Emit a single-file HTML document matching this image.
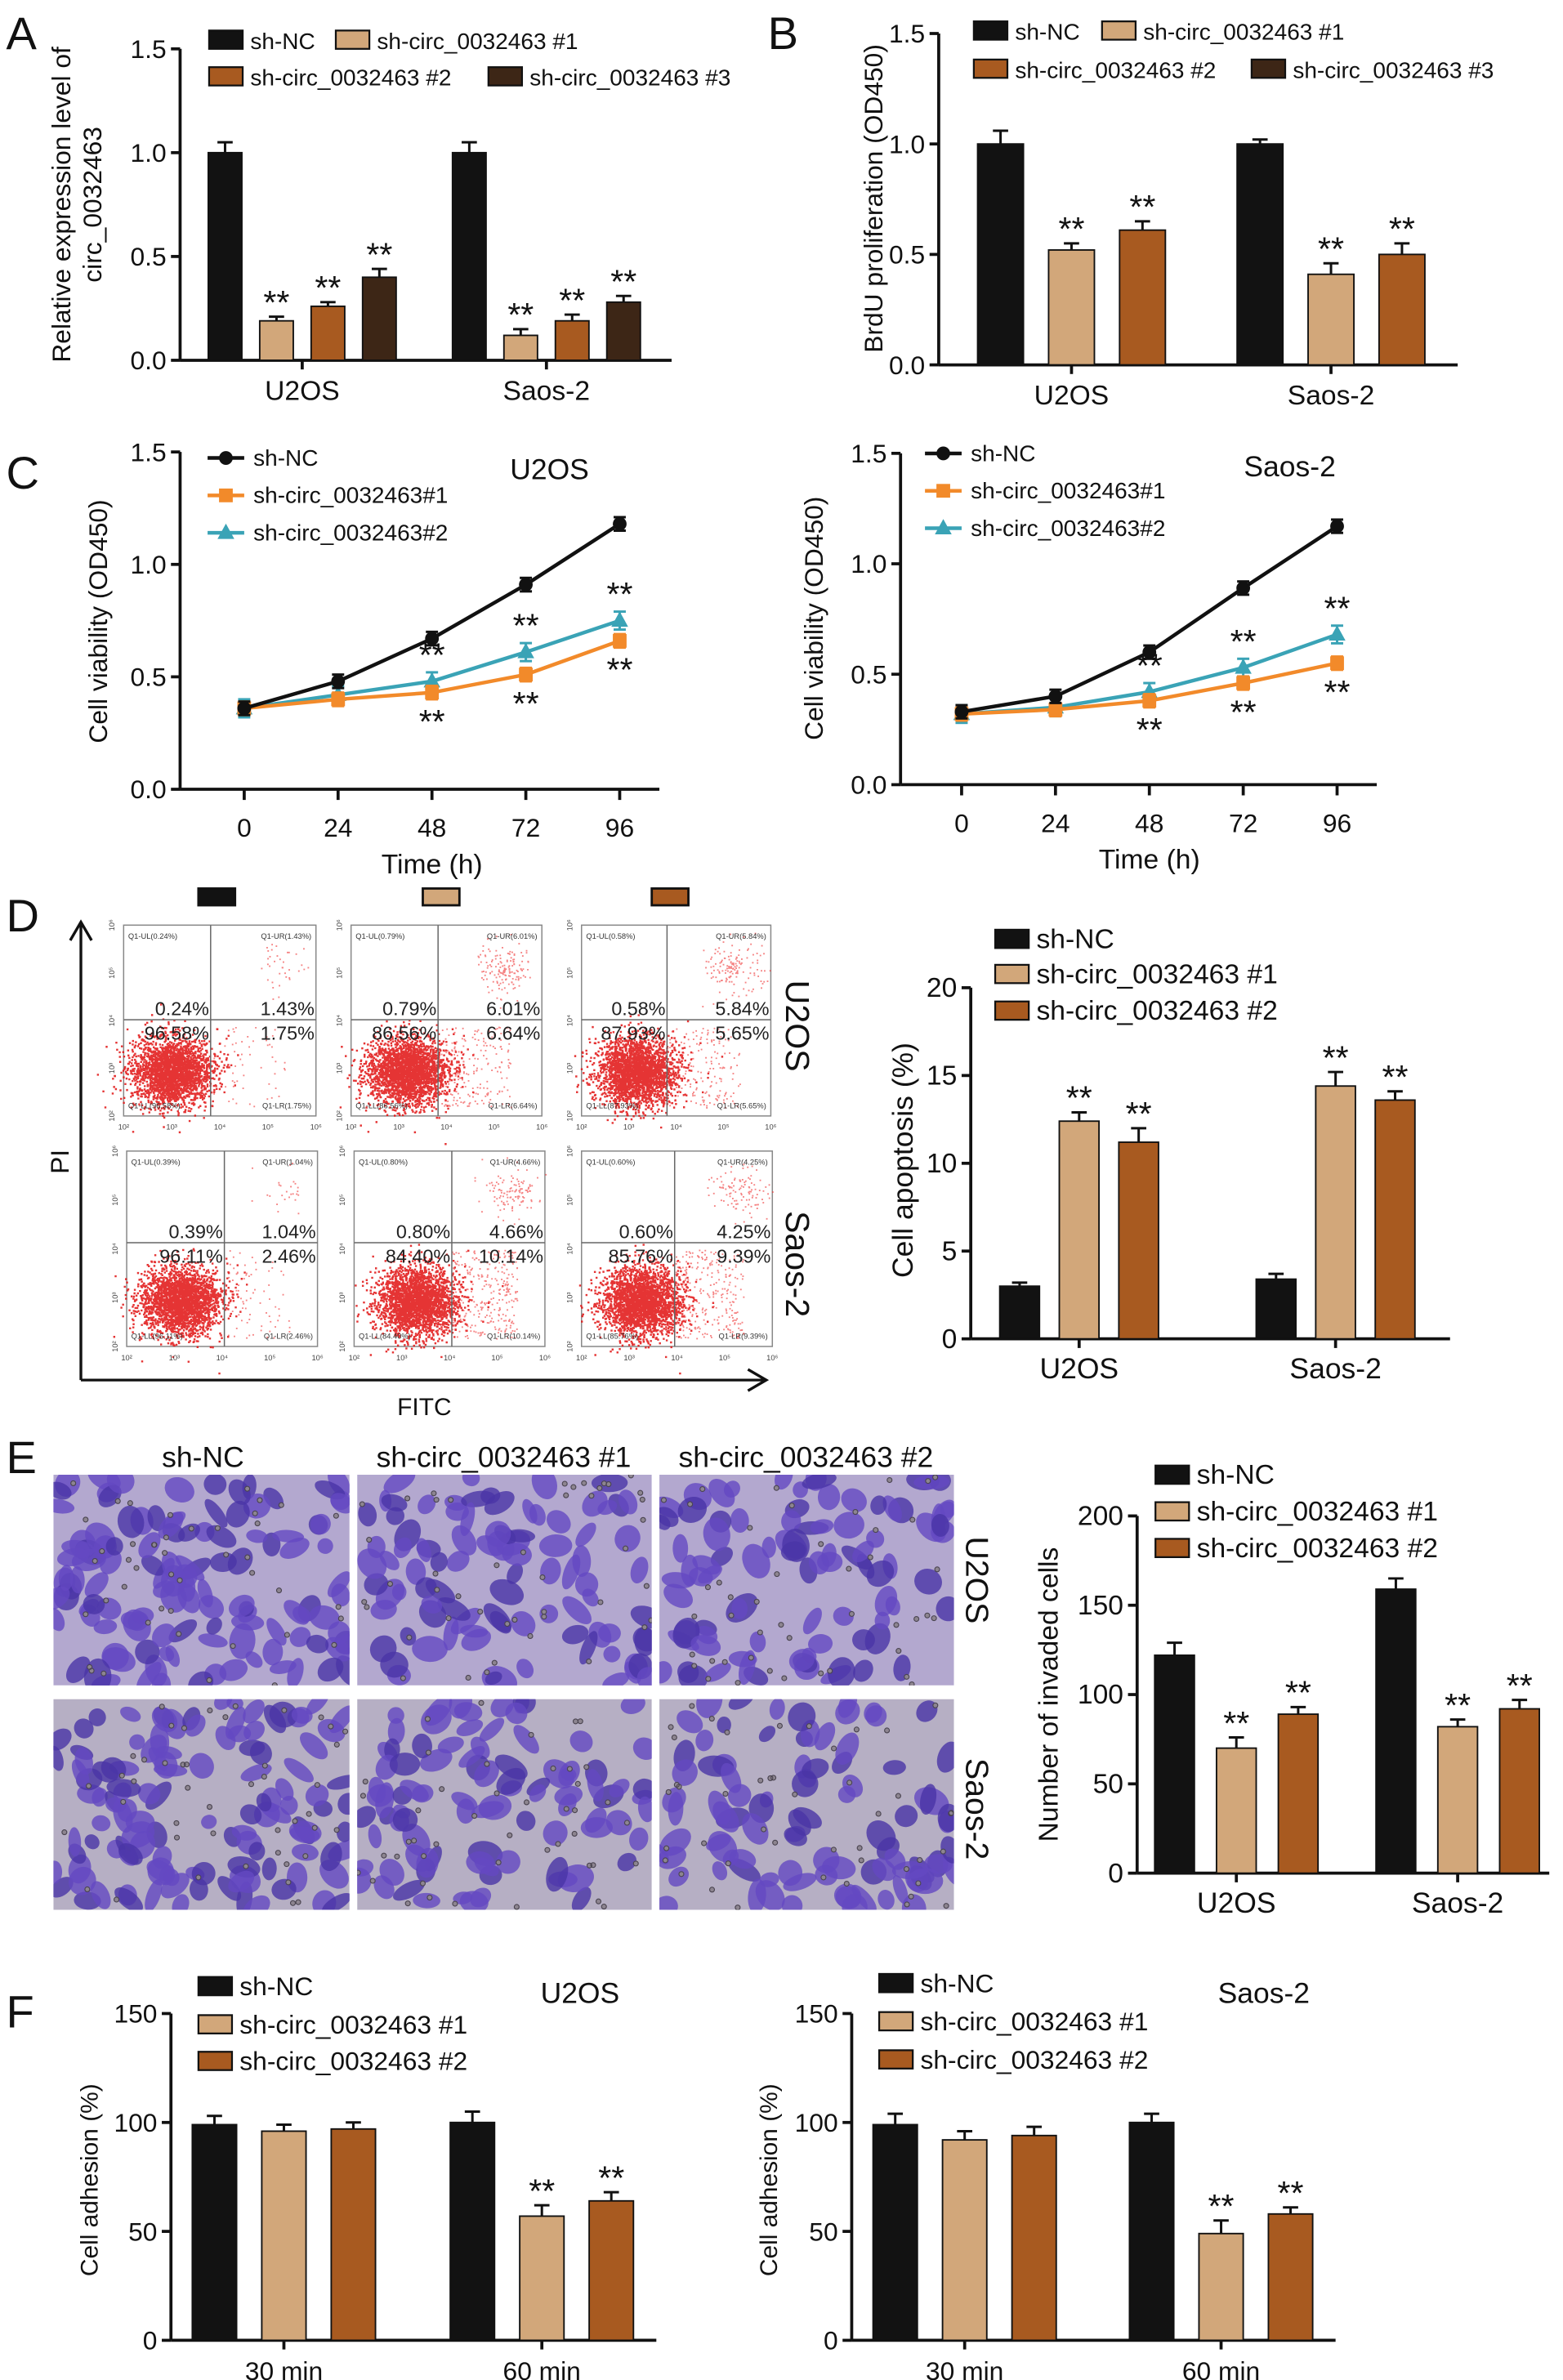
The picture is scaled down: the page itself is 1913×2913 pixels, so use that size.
<!DOCTYPE html>
<html><head><meta charset="utf-8"><style>
html,body{margin:0;padding:0;background:#fff;}
svg{display:block;font-family:"Liberation Sans",Arial,sans-serif;}
</style></head><body>
<svg id="fig" width="1913" height="2913" viewBox="0 0 1024 1559" preserveAspectRatio="none" xmlns="http://www.w3.org/2000/svg">
<defs></defs>
</svg>
<script>
// ---------- DATA ----------
const aCats = ['U2OS','Saos-2'];
const aSeries = ['sh-NC','sh-circ_0032463 #1','sh-circ_0032463 #2','sh-circ_0032463 #3'];
const aNC = [1.0, 1.0];
const aS1 = [0.19, 0.12];
const aS2 = [0.26, 0.19];
const aS3 = [0.40, 0.28];
const aErr = [[0.05,0.05],[0.02,0.03],[0.02,0.03],[0.04,0.03]];
const aTicks = [0, 0.5, 1.0, 1.5];

const bCats = ['U2OS','Saos-2'];
const bNC = [1.0, 1.0];
const bS1 = [0.52, 0.41];
const bS2 = [0.61, 0.50];
const bErr = [[0.06,0.02],[0.03,0.05],[0.04,0.05]];
const bTicks = [0, 0.5, 1.0, 1.5];

const cTimes = [0, 24, 48, 72, 96];
const cU2NC = [0.36, 0.48, 0.67, 0.91, 1.18];
const cU2S1 = [0.36, 0.40, 0.43, 0.51, 0.66];
const cU2S2 = [0.36, 0.42, 0.48, 0.61, 0.75];
const cSaNC = [0.33, 0.40, 0.60, 0.89, 1.17];
const cSaS1 = [0.32, 0.34, 0.38, 0.46, 0.55];
const cSaS2 = [0.32, 0.35, 0.42, 0.53, 0.68];
const cTicks = [0, 0.5, 1.0, 1.5];

const dCats = ['U2OS','Saos-2'];
const dNC = [3.0, 3.4];
const dS1 = [12.4, 14.4];
const dS2 = [11.2, 13.6];
const dErr = [[0.2,0.3],[0.5,0.8],[0.8,0.5]];
const dTicks = [0, 5, 10, 15, 20];
const flowUL = [['0.24%','0.79%','0.58%'],['0.39%','0.80%','0.60%']];
const flowUR = [['1.43%','6.01%','5.84%'],['1.04%','4.66%','4.25%']];
const flowLL = [['96.58%','86.56%','87.93%'],['96.11%','84.40%','85.76%']];
const flowLR = [['1.75%','6.64%','5.65%'],['2.46%','10.14%','9.39%']];

const eCats = ['U2OS','Saos-2'];
const eNC = [122, 159];
const eS1 = [70, 82];
const eS2 = [89, 92];
const eErr = [[7,6],[6,4],[4,5]];
const eTicks = [0, 50, 100, 150, 200];

const fCats = ['30 min','60 min'];
const fU2NC = [99, 100];
const fU2S1 = [96, 57];
const fU2S2 = [97, 64];
const fSaNC = [99, 100];
const fSaS1 = [92, 49];
const fSaS2 = [94, 58];
const fTicks = [0, 50, 100, 150];

const COL = ['#121212','#d2a77a','#a85a20','#3d2616'];
const LINECOL = ['#111111','#f28a2a','#3aa3b6'];

// ---------- helpers ----------
const NS='http://www.w3.org/2000/svg';
const svg=document.getElementById('fig');
function mk(tag,parent,attrs){const e=document.createElementNS(NS,tag);for(const k in attrs)e.setAttribute(k,attrs[k]);(parent||svg).appendChild(e);return e;}
function txt(parent,x,y,s,size,anchor,extra){const e=mk('text',parent,Object.assign({x:x,y:y,'font-size':size,'text-anchor':anchor||'start',fill:'#111'},extra||{}));e.textContent=s;return e;}
let seed=12345;function rnd(){seed=(seed*1103515245+12345)%2147483648;return seed/2147483648;}
function gauss(){let u=rnd()||1e-6,v=rnd();return Math.sqrt(-2*Math.log(u))*Math.cos(2*Math.PI*v);}

function yAxis(g,ax,y0,unit,ticks,fmt,size){
  const yTop=y0-ticks[ticks.length-1]*unit;
  const a=mk('line',g,{x1:ax,y1:y0,x2:ax,y2:yTop,stroke:'#111','stroke-width':2});
  
  
  ticks.forEach(t=>{const y=y0-t*unit;
    mk('line',g,{x1:ax-6,y1:y,x2:ax,y2:y,stroke:'#111','stroke-width':2});
    const l=txt(g,ax-9,y+6,fmt(t),size||17,'end');
    
    
  });
}
function yTitle(g,x,y,lines,size){
  lines.forEach((s,i)=>{const t=txt(g,0,0,s,size||17,'middle',{transform:`translate(${x+i*(size||17)*1.2},${y}) rotate(-90)`});
    
    });
}
function legendSq(g,x,y,col,label,size){
  const r=mk('rect',g,{x:x,y:y-10,width:22,height:12,fill:col,stroke:'#111','stroke-width':1.2});
  
  
  const t=txt(g,x+27,y+2,label,size||16);
  
  
}
function barChart(o){
  const g=mk('g',svg,{});
  
  
  const ys=v=>o.y0-v*o.unit;
  yAxis(g,o.ax,o.y0,o.unit,o.ticks,o.fmt,o.tsize);
  const xa=mk('line',g,{x1:o.ax,y1:o.y0,x2:o.xEnd,y2:o.y0,stroke:'#111','stroke-width':2});
  
  
  const n=o.series.length;
  o.cats.forEach((c,i)=>{
    const cx=o.catX[i];
    mk('line',g,{x1:cx,y1:o.y0,x2:cx,y2:o.y0+6,stroke:'#111','stroke-width':2});
    const l=txt(g,cx,o.y0+26,c,o.csize||18,'middle');
    
    
    o.series.forEach((arr,s)=>{
      const v=arr[i],bx=cx+(s-(n-1)/2)*o.sp,w=o.bw;
      const r=mk('rect',g,{x:bx-w/2,y:ys(v),width:w,height:o.y0-ys(v),fill:o.colors[s],stroke:'#111','stroke-width':1});
      
      
      const e=o.err[s][i];
      mk('line',g,{x1:bx,y1:ys(v),x2:bx,y2:ys(v+e),stroke:'#111','stroke-width':1.6});
      mk('line',g,{x1:bx-5,y1:ys(v+e),x2:bx+5,y2:ys(v+e),stroke:'#111','stroke-width':1.6});
      if(s>0&&o.stars&&o.stars[i]){
        const st=txt(g,bx,ys(v+e)-2,'**',22,'middle');
        
        
      }
    });
  });
  return g;
}
const f1=t=>t.toFixed(1), f0=t=>String(t);

// ---------- panel letters ----------
[['A',4,22],['B',503,22],['C',4,310],['D',4,600],['E',4,955],['F',4,1318]].forEach(p=>{
  const t=txt(svg,p[1],p[2]+10,p[0],30,'start');
  
  
});

// ---------- A ----------
let gA=barChart({name:'panel-a-chart',ax:118,y0:236,unit:136,ticks:aTicks,fmt:f1,xEnd:440,cats:aCats,catX:[198,358],series:[aNC,aS1,aS2,aS3],err:aErr,colors:COL,sp:33.7,bw:22,stars:[1,1]});
yTitle(gA,46,134,['Relative expression level of','circ_0032463'],17);
legendSq(gA,137,30,COL[0],aSeries[0],15);legendSq(gA,220,30,COL[1],aSeries[1],15);
legendSq(gA,137,54,COL[2],aSeries[2],15);legendSq(gA,320,54,COL[3],aSeries[3],15);

// ---------- B ----------
let gB=barChart({name:'panel-b-chart',ax:615,y0:239,unit:144.7,ticks:bTicks,fmt:f1,xEnd:955,cats:bCats,catX:[702,872],series:[bNC,bS1,bS2],err:bErr,colors:COL,sp:46.5,bw:30,stars:[1,1]});
yTitle(gB,578,130,['BrdU proliferation (OD450)'],17);
legendSq(gB,638,24,COL[0],aSeries[0],15);legendSq(gB,722,24,COL[1],aSeries[1],15);
legendSq(gB,638,49,COL[2],aSeries[2],15);legendSq(gB,820,49,COL[3],aSeries[3],15);

// ---------- C ----------
function marker(g,s,x,y,col){
  let m;
  if(s===0)m=mk('circle',g,{cx:x,cy:y,r:4.5,fill:col});
  else if(s===1)m=mk('rect',g,{x:x-4.5,y:y-4.5,width:9,height:9,fill:col});
  else m=mk('path',g,{d:`M${x},${y-6}L${x+5.5},${y+4}L${x-5.5},${y+4}Z`,fill:col});
  
  
}
function lineChart(o){
  const g=mk('g',svg,{});
  
  
  const ys=v=>o.y0-v*o.unit, xs=t=>o.x0+t*o.xu;
  yAxis(g,o.ax,o.y0,o.unit,cTicks,f1,17);
  mk('line',g,{x1:o.ax,y1:o.y0,x2:o.xEnd,y2:o.y0,stroke:'#111','stroke-width':2});
  cTimes.forEach(t=>{mk('line',g,{x1:xs(t),y1:o.y0,x2:xs(t),y2:o.y0+7,stroke:'#111','stroke-width':2});
    const l=txt(g,xs(t),o.y0+31,String(t),17,'middle');
    
    });
  const xt=txt(g,xs(48),o.y0+55,'Time (h)',18,'middle');
  
  
  const errs=[0.03,0.03,0.04];
  [2,1,0].forEach(s=>{
    const arr=o.series[s];
    const p=mk('polyline',g,{points:arr.map((v,i)=>xs(cTimes[i])+','+ys(v)).join(' '),fill:'none',stroke:LINECOL[s],'stroke-width':2.4});
    
    
    arr.forEach((v,i)=>{const x=xs(cTimes[i]);
      mk('line',g,{x1:x,y1:ys(v-errs[s]),x2:x,y2:ys(v+errs[s]),stroke:LINECOL[s],'stroke-width':1.6});
      mk('line',g,{x1:x-4,y1:ys(v+errs[s]),x2:x+4,y2:ys(v+errs[s]),stroke:LINECOL[s],'stroke-width':1.6});
      mk('line',g,{x1:x-4,y1:ys(v-errs[s]),x2:x+4,y2:ys(v-errs[s]),stroke:LINECOL[s],'stroke-width':1.6});
      marker(g,s,x,ys(v),LINECOL[s]);});
  });
  for(let i=2;i<cTimes.length;i++){const x=xs(cTimes[i]);
    const s1=txt(g,x,ys(o.series[2][i]+errs[2])-4,'**',22,'middle');
    
    
    const s2=txt(g,x,ys(o.series[1][i]-errs[1])+22,'**',22,'middle');
    
    }
  const labels=['sh-NC','sh-circ_0032463#1','sh-circ_0032463#2'];
  labels.forEach((l,s)=>{const y=o.ly+s*24.5;
    mk('line',g,{x1:o.lx,y1:y,x2:o.lx+24,y2:y,stroke:LINECOL[s],'stroke-width':2.4});
    marker(g,s,o.lx+12,y,LINECOL[s]);
    const t=txt(g,o.lx+30,y+5,l,15);
    
    });
  const tt=txt(g,o.tx,o.ty,o.title,19,'middle');
  
  
  return g;
}
let gC1=lineChart({name:'panel-c-u2os-chart',ax:118,y0:517,unit:147.3,x0:160,xu:(406-160)/96,xEnd:432,series:[cU2NC,cU2S1,cU2S2],lx:136,ly:300,title:'U2OS',tx:360,ty:314});
yTitle(gC1,70,407,['Cell viability (OD450)'],17);
let gC2=lineChart({name:'panel-c-saos2-chart',ax:590,y0:514,unit:144.7,x0:630,xu:(876-630)/96,xEnd:902,series:[cSaNC,cSaS1,cSaS2],lx:606,ly:297,title:'Saos-2',tx:845,ty:312});
yTitle(gC2,539,405,['Cell viability (OD450)'],17);

// ---------- D flow ----------
const gD=mk('g',svg,{});


[[130,COL[0]],[277,COL[1]],[427,COL[2]]].forEach(p=>{const r=mk('rect',gD,{x:p[0],y:582,width:24,height:11,fill:p[1],stroke:'#111','stroke-width':1.5});
  
  });
const boxes=[[[81,207,138],[230,355,287],[381,505,437]],[[83,208,147],[232,357,296],[381,506,442]]];
const rowsY=[[606,731,668],[754,882,814]];
for(let r=0;r<2;r++)for(let c=0;c<3;c++){
  const [x0,x1,dx]=boxes[r][c],[y0,y1,dy]=rowsY[r];
  const g=mk('g',gD,{});
  
  
  mk('rect',g,{x:x0,y:y0,width:x1-x0,height:y1-y0,fill:'#fff',stroke:'#888','stroke-width':0.8});
  const lr=parseFloat(flowLR[r][c]),ur=parseFloat(flowUR[r][c]);
  const cx=x0+(dx-x0)*(c===0?0.55:0.64),cy=y0+(y1-y0)*0.77;
  let d='';
  for(let i=0;i<2600;i++){const x=cx+gauss()*13,y=cy+gauss()*11;d+=`M${x.toFixed(1)},${y.toFixed(1)}h1.3`;}
  let d2='';
  for(let i=0;i<lr*30;i++){const x=dx+rnd()*(x1-dx)*0.7,y=dy+5+rnd()*(y1-dy-10);d2+=`M${x.toFixed(1)},${y.toFixed(1)}h1`;}
  for(let i=0;i<ur*25;i++){const x=dx+(x1-dx)*0.65+gauss()*9,y=y0+(dy-y0)*0.45+gauss()*8;d2+=`M${x.toFixed(1)},${y.toFixed(1)}h1`;}
  mk('path',g,{d:d,stroke:'#e01010','stroke-width':1.3,'stroke-opacity':0.85});
  mk('path',g,{d:d2,stroke:'#ee3030','stroke-width':1,'stroke-opacity':0.6});
  mk('line',g,{x1:dx,y1:y0,x2:dx,y2:y1,stroke:'#666','stroke-width':0.8});
  mk('line',g,{x1:x0,y1:dy,x2:x1,y2:dy,stroke:'#666','stroke-width':0.8});
  const sz=12.5;
  [[dx-1,dy-3,flowUL[r][c]],[x1-1,dy-3,flowUR[r][c]],[dx-1,dy+13,flowLL[r][c]],[x1-1,dy+13,flowLR[r][c]]].forEach(q=>{
    const t=txt(g,q[0],q[1],q[2],sz,'end',{fill:'#222'});
    
    });
  txt(g,x0+3,y0+9,'Q1-UL('+flowUL[r][c]+')',5,'start',{fill:'#333'});
  txt(g,x1-3,y0+9,'Q1-UR('+flowUR[r][c]+')',5,'end',{fill:'#333'});
  txt(g,x0+3,y1-5,'Q1-LL('+flowLL[r][c]+')',5,'start',{fill:'#333'});
  txt(g,x1-3,y1-5,'Q1-LR('+flowLR[r][c]+')',5,'end',{fill:'#333'});
  for(let k=0;k<5;k++){txt(g,x0+k*(x1-x0)/4,y1+9,'10'+['²','³','⁴','⁵','⁶'][k],5,'middle',{fill:'#444'});
    txt(g,x0-6,y1-k*(y1-y0)/4,'10'+['²','³','⁴','⁵','⁶'][k],5,'middle',{fill:'#444',transform:`rotate(-90 ${x0-6} ${y1-k*(y1-y0)/4})`});}
}
mk('path',gD,{d:'M53,904V604M46,616L53,604L60,616M53,904H502M490,897L502,904L490,911',fill:'none',stroke:'#111','stroke-width':1.8});
let t1=txt(gD,0,0,'PI',17,'middle',{transform:'translate(45,761) rotate(-90)'});


let t2=txt(gD,278,927,'FITC',16,'middle');


[['U2OS',672],['Saos-2',828]].forEach(p=>{const t=txt(gD,0,0,p[0],22,'middle',{transform:`translate(515,${p[1]}) rotate(90)`});
  
  });

let gD2=barChart({name:'panel-d-apoptosis-chart',ax:636,y0:877,unit:11.5,ticks:dTicks,fmt:f0,xEnd:950,cats:dCats,catX:[707,875],series:[dNC,dS1,dS2],err:dErr,colors:COL,sp:39,bw:26,stars:[1,1],tsize:18,csize:19});
yTitle(gD2,598,760,['Cell apoptosis (%)'],19);
legendSq(gD2,652,619,COL[0],'sh-NC',18);legendSq(gD2,652,642,COL[1],'sh-circ_0032463 #1',18);legendSq(gD2,652,666,COL[2],'sh-circ_0032463 #2',18);

// ---------- E microscopy ----------
const gE=mk('g',svg,{});


[['sh-NC',133],['sh-circ_0032463 #1',330],['sh-circ_0032463 #2',528]].forEach(p=>{const t=txt(gE,p[1],961,p[0],19,'middle');
  
  });
const imX=[[35,229],[234,427],[432,625]],imY=[[966,1104],[1113,1251]];
let cid=0;
imY.forEach((yy,r)=>imX.forEach((xx,c)=>{
  const id='clip'+(cid++);
  const cp=mk('clipPath',svg.querySelector('defs'),{id:id});
  mk('rect',cp,{x:xx[0],y:yy[0],width:xx[1]-xx[0],height:yy[1]-yy[0]});
  const g=mk('g',gE,{'clip-path':`url(#${id})`});
  
  
  mk('rect',g,{x:xx[0],y:yy[0],width:xx[1]-xx[0],height:yy[1]-yy[0],fill:r===0?'#b3a8cf':'#b6afc4'});
  const nb=c===0?120:90;
  for(let i=0;i<nb;i++){const x=xx[0]+rnd()*(xx[1]-xx[0]),y=yy[0]+rnd()*(yy[1]-yy[0]);
    mk('ellipse',g,{cx:x,cy:y,rx:5+rnd()*7,ry:4+rnd()*5,transform:`rotate(${rnd()*180} ${x} ${y})`,fill:rnd()<0.3?'#4a34a6':'#6449c2','fill-opacity':0.8});}
  let d='';
  for(let i=0;i<45;i++){const x=xx[0]+rnd()*(xx[1]-xx[0]),y=yy[0]+rnd()*(yy[1]-yy[0]);d+=`M${x.toFixed(1)},${y.toFixed(1)}m-1.6,0a1.6,1.6 0 1,0 3.2,0a1.6,1.6 0 1,0 -3.2,0`;}
  mk('path',g,{d:d,fill:'#8d8590',stroke:'#4a4450','stroke-width':0.6});
}));
[['U2OS',1035],['Saos-2',1185]].forEach(p=>{const t=txt(gE,0,0,p[0],21,'middle',{transform:`translate(633,${p[1]}) rotate(90)`});
  
  });

let gE2=barChart({name:'panel-e-invasion-chart',ax:745,y0:1227,unit:1.17,ticks:eTicks,fmt:f0,xEnd:1015,cats:eCats,catX:[810,955],series:[eNC,eS1,eS2],err:eErr,colors:COL,sp:40.5,bw:26,stars:[1,1],tsize:18,csize:19});
yTitle(gE2,693,1110,['Number of invaded cells'],18);
legendSq(gE2,757,970,COL[0],'sh-NC',18);legendSq(gE2,757,994,COL[1],'sh-circ_0032463 #1',18);legendSq(gE2,757,1018,COL[2],'sh-circ_0032463 #2',18);

// ---------- F ----------
let gF1=barChart({name:'panel-f-u2os-chart',ax:112,y0:1533,unit:1.427,ticks:fTicks,fmt:f0,xEnd:430,cats:fCats,catX:[186,355],series:[fU2NC,fU2S1,fU2S2],err:[[4,5],[3,5],[3,4]],colors:COL,sp:45.5,bw:29,stars:[0,1],tsize:17,csize:17});
yTitle(gF1,64,1428,['Cell adhesion (%)'],16);
legendSq(gF1,130,1305,COL[0],'sh-NC',17);legendSq(gF1,130,1330,COL[1],'sh-circ_0032463 #1',17);legendSq(gF1,130,1354,COL[2],'sh-circ_0032463 #2',17);
let ft=txt(gF1,380,1312,'U2OS',19,'middle');


let gF2=barChart({name:'panel-f-saos2-chart',ax:558,y0:1533,unit:1.427,ticks:fTicks,fmt:f0,xEnd:875,cats:fCats,catX:[632,800],series:[fSaNC,fSaS1,fSaS2],err:[[5,4],[4,6],[4,3]],colors:COL,sp:45.5,bw:29,stars:[0,1],tsize:17,csize:17});
yTitle(gF2,509,1428,['Cell adhesion (%)'],16);
legendSq(gF2,576,1303,COL[0],'sh-NC',17);legendSq(gF2,576,1328,COL[1],'sh-circ_0032463 #1',17);legendSq(gF2,576,1353,COL[2],'sh-circ_0032463 #2',17);
let ft2=txt(gF2,828,1312,'Saos-2',19,'middle');


</script>
</body></html>
